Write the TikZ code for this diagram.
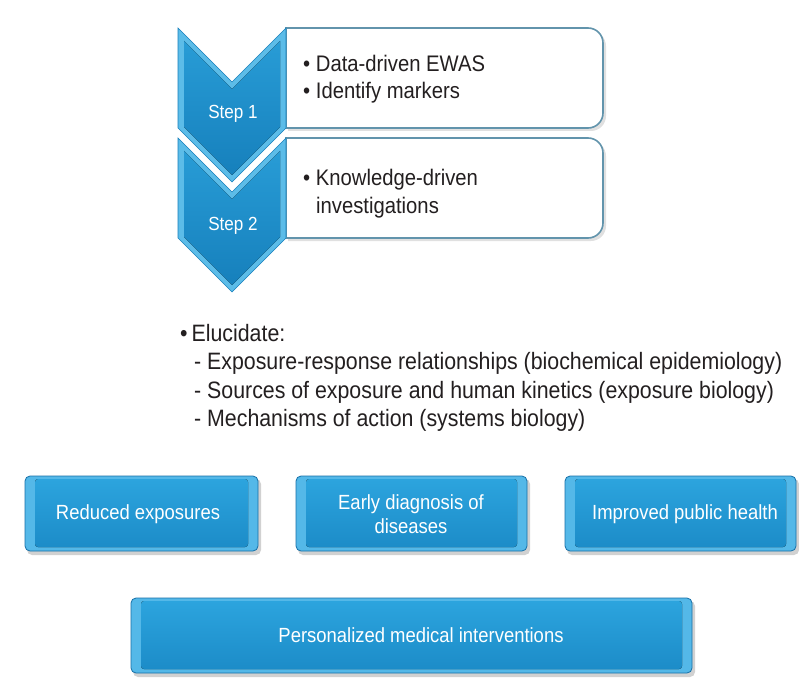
\documentclass[tikz,border=0pt]{standalone}
\usepackage{fontspec}
\setmainfont{Liberation Sans}[FakeStretch=0.9]
\definecolor{chevlight}{RGB}{92,188,232}
\definecolor{chevtop}{RGB}{40,156,214}
\definecolor{chevbot}{RGB}{22,128,188}
\definecolor{boxlight}{RGB}{84,184,232}
\definecolor{boxtop}{RGB}{44,164,222}
\definecolor{boxbot}{RGB}{28,140,200}
\definecolor{boxedge}{RGB}{22,112,168}
\definecolor{panelline}{RGB}{98,148,172}
\definecolor{txt}{RGB}{35,31,32}
\begin{document}
\begin{tikzpicture}[x=1pt,y=-1pt,
  panel/.style={draw=panelline, line width=1.6pt, fill=white},
  panelshadow/.style={fill=black, opacity=0.12},
  chevout/.style={fill=chevlight, draw=chevbot, line width=0.6pt},
  chevin/.style={top color=chevtop, bottom color=chevbot},
  tile/.style={rounded corners=5pt, draw=boxedge, line width=0.8pt, fill=boxlight},
  tileface/.style={rounded corners=3pt, top color=boxtop, bottom color=boxbot},
  tileshadow/.style={rounded corners=5pt, fill=black, opacity=0.18},
  darktext/.style={text=txt, font=\fontsize{22.5}{27}\selectfont, anchor=base west, inner sep=0pt},
  midtext/.style={text=txt, font=\fontsize{23.7}{28}\selectfont, anchor=base west, inner sep=0pt},
  steptext/.style={text=white, font=\fontsize{19}{22}\selectfont, inner sep=0pt},
  tiletext/.style={text=white, font=\fontsize{20.5}{24}\selectfont, align=center, inner sep=0pt}]
\useasboundingbox (0,0) rectangle (799,687);
\fill[white] (0,0) rectangle (799,687);

% white panels (square on the left, rounded on the right)
\fill[panelshadow] (288,31) -- (591,31) arc[start angle=-90,end angle=0,radius=15] -- (606,116) arc[start angle=0,end angle=90,radius=15] -- (288,131) -- cycle;
\fill[panelshadow] (288,141) -- (591,141) arc[start angle=-90,end angle=0,radius=15] -- (606,226) arc[start angle=0,end angle=90,radius=15] -- (288,241) -- cycle;
\draw[panel] (286,28) -- (588,28) arc[start angle=-90,end angle=0,radius=15] -- (603,113) arc[start angle=0,end angle=90,radius=15] -- (286,128) -- cycle;
\draw[panel] (286,138) -- (588,138) arc[start angle=-90,end angle=0,radius=15] -- (603,223) arc[start angle=0,end angle=90,radius=15] -- (286,238) -- cycle;

% chevrons
\draw[chevout] (178,28) -- (232,82) -- (286,28) -- (286,128) -- (232,182) -- (178,128) -- cycle;
\fill[chevin] (184,41) -- (232,89) -- (280,41) -- (280,127) -- (232,175) -- (184,127) -- cycle;
\draw[chevout] (178,138) -- (232,192) -- (286,138) -- (286,238) -- (232,292) -- (178,238) -- cycle;
\fill[chevin] (184,151) -- (232,199) -- (280,151) -- (280,237) -- (232,285) -- (184,237) -- cycle;

\node[steptext] (s1) at (233,114) {Step 1};
\node[steptext] (s2) at (233,226) {Step 2};

\node[darktext] (p1a) at (303,72) {• Data-driven EWAS};
\node[darktext] (p1b) at (303,99) {• Identify markers};
\node[darktext] (p2a) at (303,185) {• Knowledge-driven};
\node[darktext] (p2b) at (316,213) {investigations};

% middle text
\node[midtext] (m0) at (180,341) {•\kern4pt Elucidate:};
\node[midtext] (m1) at (194,369.5) {- Exposure-response relationships (biochemical epidemiology)};
\node[midtext] (m2) at (194,398) {- Sources of exposure and human kinetics (exposure biology)};
\node[midtext] (m3) at (194,426.5) {- Mechanisms of action (systems biology)};

% outcome tiles
\fill[tileshadow] (27,479) rectangle (261,555);
\draw[tile] (25,476) rectangle (258,551);
\fill[tileface] (35,479) rectangle (248,547);
\node[tiletext] (t1) at (138,514) {Reduced exposures};

\fill[tileshadow] (298,479) rectangle (530,555);
\draw[tile] (296,476) rectangle (527,551);
\fill[tileface] (306,479) rectangle (517,547);
\node[tiletext] (t2) at (411,514) {Early diagnosis of\\diseases};

\fill[tileshadow] (567,479) rectangle (799,555);
\draw[tile] (565,476) rectangle (796,551);
\fill[tileface] (575,479) rectangle (786,547);
\node[tiletext] (t3) at (685,514) {Improved public health};

\fill[tileshadow] (133,601) rectangle (695,677);
\draw[tile] (131,598) rectangle (692,673);
\fill[tileface] (141,601) rectangle (682,669);
\node[tiletext] (t4) at (421,635) {Personalized medical interventions};
\end{tikzpicture}
\end{document}
